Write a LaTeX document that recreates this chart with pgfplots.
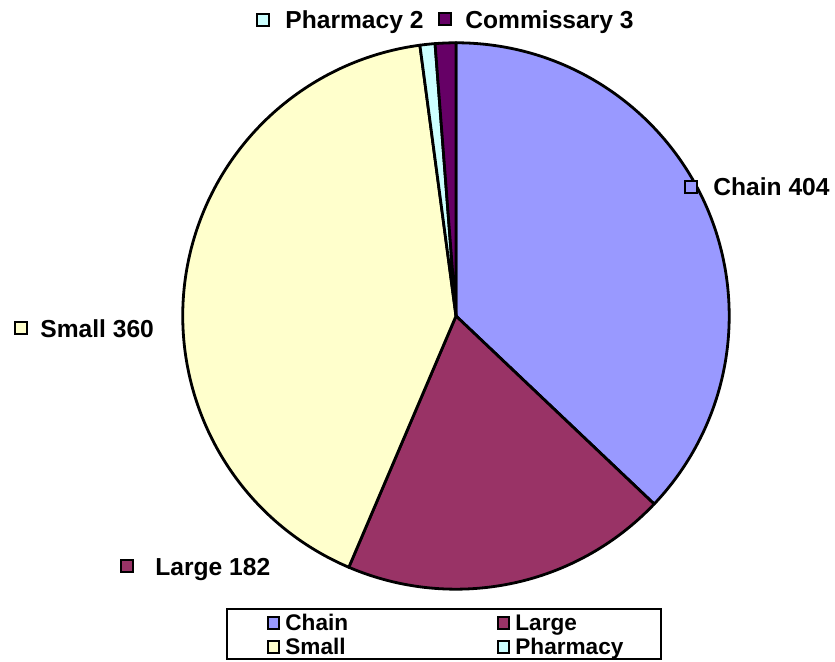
\documentclass[border=0pt]{standalone}
\usepackage{pgfplots}
\usepackage{pgfplotstable}
\pgfplotsset{compat=1.18}
\usepackage{fontspec}
\setmainfont{Liberation Sans}
\definecolor{chain}{HTML}{9999FF}
\definecolor{large}{HTML}{993366}
\definecolor{small}{HTML}{FFFFCC}
\definecolor{pharmacy}{HTML}{CCFFFF}
\definecolor{commissary}{HTML}{660066}

% value = data label, span = wedge angle (degrees) as drawn
\pgfplotstableread{
name value span col
Chain 404 133.5 chain
Large 182 69.6 large
Small 360 149.3 small
Pharmacy 2 3.2 pharmacy
Commissary 3 4.4 commissary
}\piedata

\pgfmathsetmacro\curang{90}%
\pgfplotsforeachungrouped \i in {0,...,4}{%
  \pgfplotstablegetelem{\i}{span}\of\piedata
  \pgfmathsetmacro\newang{\curang-\pgfplotsretval}%
  \expandafter\xdef\csname sa\i\endcsname{\curang}%
  \expandafter\xdef\csname ea\i\endcsname{\newang}%
  \pgfplotstablegetelem{\i}{col}\of\piedata
  \expandafter\xdef\csname co\i\endcsname{\pgfplotsretval}%
  \global\let\curang\newang
}%

\begin{document}%
\begin{tikzpicture}
\begin{axis}[
  scale only axis, width=417.5pt, height=331pt,
  xmin=0, xmax=835, ymin=0, ymax=662,
  hide axis, clip=false,
]
\pgfplotsinvokeforeach{0,...,4}{%
  \edef\temp{\noexpand\filldraw[fill=\csname co#1\endcsname, draw=black, line width=1.4pt, line join=round]
    (axis cs:456,346) -- ++(\csname sa#1\endcsname:136.6pt)
    arc[start angle=\csname sa#1\endcsname, end angle=\csname ea#1\endcsname, radius=136.6pt] -- cycle;}%
  \temp
}
% data labels
\tikzset{mk/.style={draw=black, line width=0.9pt, minimum size=6pt, inner sep=0pt},
         lb/.style={anchor=base west, inner sep=0pt, font=\fontsize{12.3}{14}\selectfont\bfseries}}
\node[mk, fill=pharmacy] at (axis cs:263,642) {};
\node[lb] at (axis cs:285,633) {Pharmacy 2};
\node[mk, fill=commissary] at (axis cs:445,643) {};
\node[lb] at (axis cs:465,633) {Commissary 3};
\node[mk, fill=chain] at (axis cs:691,475) {};
\node[lb] at (axis cs:713,466) {Chain 404};
\node[mk, fill=small] at (axis cs:21,334) {};
\node[lb] at (axis cs:40,324) {Small 360};
\node[mk, fill=large] at (axis cs:127,96) {};
\node[lb] at (axis cs:155,86) {Large 182};
% legend
\draw[black, line width=0.6pt] (axis cs:227,3) rectangle (axis cs:661,53);
\tikzset{lg/.style={anchor=base west, inner sep=0pt, font=\fontsize{11.3}{13}\selectfont\bfseries},
         lm/.style={draw=black, line width=0.9pt, minimum size=5.8pt, inner sep=0pt}}
\node[lm, fill=chain] at (axis cs:273.5,39) {};
\node[lg] at (axis cs:285,31) {Chain};
\node[lm, fill=large] at (axis cs:503.5,39) {};
\node[lg] at (axis cs:515,31) {Large};
\node[lm, fill=small] at (axis cs:273.5,15) {};
\node[lg] at (axis cs:285,7) {Small};
\node[lm, fill=pharmacy] at (axis cs:503.5,15) {};
\node[lg] at (axis cs:515,7) {Pharmacy};
\end{axis}
\pgfresetboundingbox
\useasboundingbox (current axis.south west) rectangle (current axis.north east);
\end{tikzpicture}%
\end{document}
